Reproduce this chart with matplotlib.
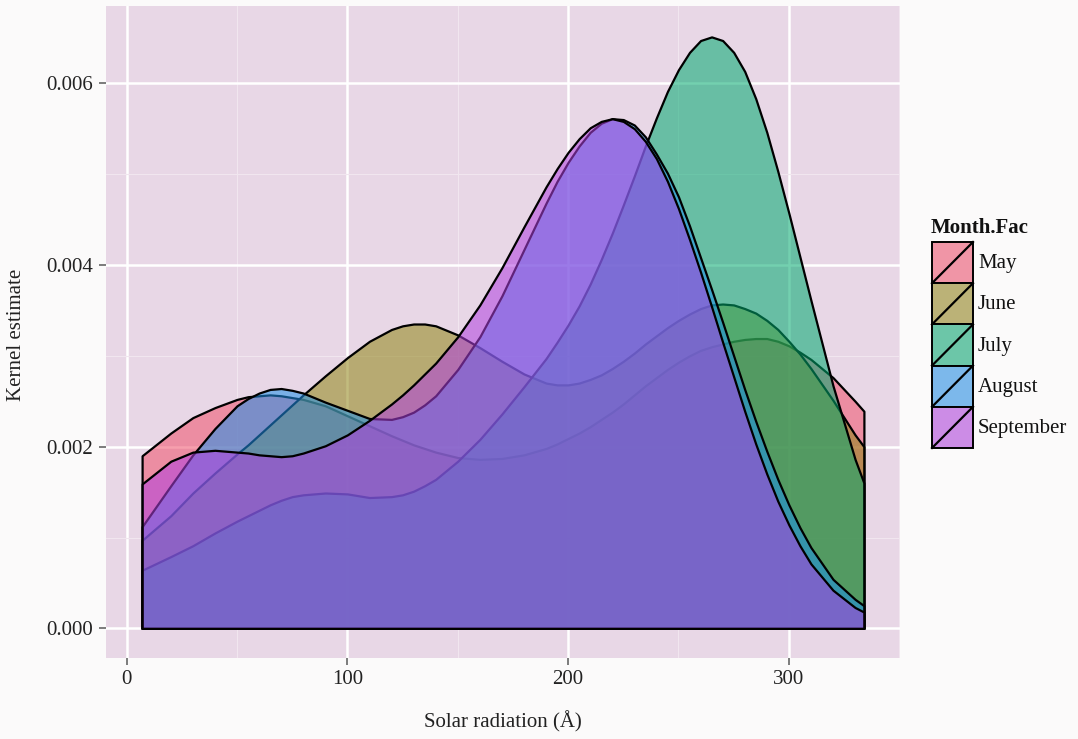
import matplotlib
matplotlib.use("Agg")
import matplotlib.pyplot as plt
from matplotlib.colors import to_rgba
from matplotlib.patches import Rectangle

W, H = 1078, 739

# solar radiation values the density curves were read at
solar = [7, 20, 30, 40, 50, 55, 60, 65, 70, 75,
         80, 90, 100, 110, 120, 125, 130, 135, 140, 150,
         160, 170, 180, 190, 195, 200, 205, 210, 215, 220,
         225, 230, 235, 240, 245, 250, 255, 260, 265, 270,
         275, 280, 285, 290, 295, 300, 305, 310, 320, 330,
         334]

# kernel density estimate of each month
may = [0.00190, 0.00215, 0.00232, 0.00243, 0.00252, 0.00255, 0.00256, 0.00257, 0.00256, 0.00254,
       0.00252, 0.00245, 0.00234, 0.00223, 0.00212, 0.00207, 0.00202, 0.00198, 0.00194, 0.00188,
       0.00186, 0.00187, 0.00191, 0.00198, 0.00203, 0.00209, 0.00215, 0.00222, 0.00230, 0.00238,
       0.00247, 0.00257, 0.00267, 0.00276, 0.00285, 0.00293, 0.00300, 0.00306, 0.00310, 0.00313,
       0.00316, 0.00318, 0.00319, 0.00319, 0.00316, 0.00311, 0.00304, 0.00296, 0.00276, 0.00250,
       0.00239]
june = [0.00097, 0.00124, 0.00149, 0.00171, 0.00192, 0.00202, 0.00213, 0.00224, 0.00235, 0.00246,
        0.00257, 0.00278, 0.00298, 0.00316, 0.00329, 0.00333, 0.00335, 0.00335, 0.00333, 0.00323,
        0.00309, 0.00294, 0.00280, 0.00270, 0.00268, 0.00268, 0.00270, 0.00274, 0.00279, 0.00286,
        0.00294, 0.00303, 0.00313, 0.00322, 0.00331, 0.00339, 0.00346, 0.00352, 0.00356, 0.00357,
        0.00356, 0.00352, 0.00347, 0.00339, 0.00329, 0.00316, 0.00302, 0.00286, 0.00251, 0.00213,
        0.00200]
july = [0.00064, 0.00079, 0.00091, 0.00105, 0.00118, 0.00124, 0.00130, 0.00136, 0.00141, 0.00145,
        0.00147, 0.00149, 0.00148, 0.00144, 0.00145, 0.00147, 0.00151, 0.00157, 0.00164, 0.00184,
        0.00208, 0.00236, 0.00266, 0.00297, 0.00315, 0.00334, 0.00355, 0.00379, 0.00406, 0.00435,
        0.00466, 0.00498, 0.00531, 0.00562, 0.00591, 0.00615, 0.00634, 0.00647, 0.00651, 0.00647,
        0.00634, 0.00613, 0.00583, 0.00546, 0.00503, 0.00457, 0.00409, 0.00361, 0.00267, 0.00186,
        0.00160]
august = [0.00112, 0.00157, 0.00191, 0.00220, 0.00245, 0.00253, 0.00259, 0.00263, 0.00264, 0.00262,
          0.00259, 0.00249, 0.00240, 0.00231, 0.00230, 0.00233, 0.00238, 0.00246, 0.00256, 0.00285,
          0.00321, 0.00366, 0.00417, 0.00468, 0.00492, 0.00513, 0.00531, 0.00546, 0.00556, 0.00561,
          0.00560, 0.00554, 0.00541, 0.00522, 0.00501, 0.00475, 0.00443, 0.00408, 0.00373, 0.00337,
          0.00300, 0.00263, 0.00228, 0.00195, 0.00164, 0.00136, 0.00111, 0.00089, 0.00054, 0.00032,
          0.00025]
september = [0.00159, 0.00184, 0.00194, 0.00196, 0.00194, 0.00193, 0.00191, 0.00190, 0.00189, 0.00190,
             0.00193, 0.00201, 0.00213, 0.00229, 0.00247, 0.00257, 0.00268, 0.00280, 0.00292, 0.00321,
             0.00356, 0.00397, 0.00442, 0.00486, 0.00506, 0.00524, 0.00539, 0.00551, 0.00558, 0.00561,
             0.00558, 0.00550, 0.00536, 0.00517, 0.00492, 0.00462, 0.00428, 0.00392, 0.00354, 0.00315,
             0.00277, 0.00239, 0.00203, 0.00170, 0.00140, 0.00114, 0.00091, 0.00071, 0.00042, 0.00023,
             0.00018]

months = ["May", "June", "July", "August", "September"]
colors = ["#F0506A", "#908514", "#00AA6E", "#1E90E8", "#B040E0"]
x_ticks = [0, 100, 200, 300]
y_ticks = [0.000, 0.002, 0.004, 0.006]

plt.rcParams["font.family"] = ["Liberation Serif", "DejaVu Serif"]

fig = plt.figure(figsize=(W / 100, H / 100), dpi=100)
fig.patch.set_facecolor("#fbfafa")


def px_box(left, top, right, bottom):
    return [left / W, 1 - bottom / H, (right - left) / W, (bottom - top) / H]


ax = fig.add_axes(px_box(106, 6, 900, 658))
ax.set_facecolor("#e8d7e6")
ax.set_xlim(-9.35, 350.35)
ax.set_ylim(-0.000326, 0.00685)

for dens, col in zip([may, june, july, august, september], colors):
    ax.fill_between(solar, 0, dens, facecolor=to_rgba(col, 0.55),
                    edgecolor="black", linewidth=1.6, zorder=3)

# ggplot style grid
ax.set_xticks(x_ticks)
ax.set_yticks(y_ticks)
ax.set_xticks([50, 150, 250, 350], minor=True)
ax.set_yticks([0.001, 0.003, 0.005], minor=True)
ax.grid(which="major", color="white", linewidth=1.8, zorder=0)
ax.grid(which="minor", color="#f1e6ef", linewidth=0.8, zorder=0)
ax.set_axisbelow(True)
for s in ax.spines.values():
    s.set_visible(False)

ax.set_xticklabels([str(v) for v in x_ticks])
ax.set_yticklabels(["%.3f" % v for v in y_ticks])
ax.tick_params(which="major", length=5, width=1.2, color="#666666",
               labelsize=15, labelcolor="#222222", pad=4)
ax.tick_params(which="minor", length=0)

fig.text(503 / W, 1 - 722 / H, "Solar radiation (Å)", ha="center", va="center",
         fontsize=15, color="#222222")
fig.text(17 / W, 1 - 335 / H, "Kernel estimate", ha="center", va="center",
         rotation=90, fontsize=15, color="#222222")

# legend drawn in pixel coordinates
lg = fig.add_axes([0, 0, 1, 1])
lg.set_xlim(0, W)
lg.set_ylim(H, 0)
lg.axis("off")
lg.patch.set_alpha(0)
lg.text(931, 228, "Month.Fac", ha="left", va="center", fontsize=15,
        fontweight="bold", color="#111111")
key_top, key_h, key_l, key_w = 242, 41.2, 932, 41
for i, (name, col) in enumerate(zip(months, colors)):
    top = key_top + i * key_h
    lg.add_patch(Rectangle((key_l, top), key_w, key_h, facecolor="#f0eaef",
                           edgecolor="none"))
    lg.add_patch(Rectangle((key_l, top), key_w, key_h, facecolor=to_rgba(col, 0.55),
                           edgecolor="black", linewidth=1.4))
    lg.plot([key_l, key_l + key_w], [top + key_h, top], color="black", linewidth=1.6)
    lg.text(978, top + key_h / 2 + 1, name, ha="left", va="center", fontsize=15,
            color="#111111")

fig.savefig("out.png", dpi=100, facecolor=fig.get_facecolor())
